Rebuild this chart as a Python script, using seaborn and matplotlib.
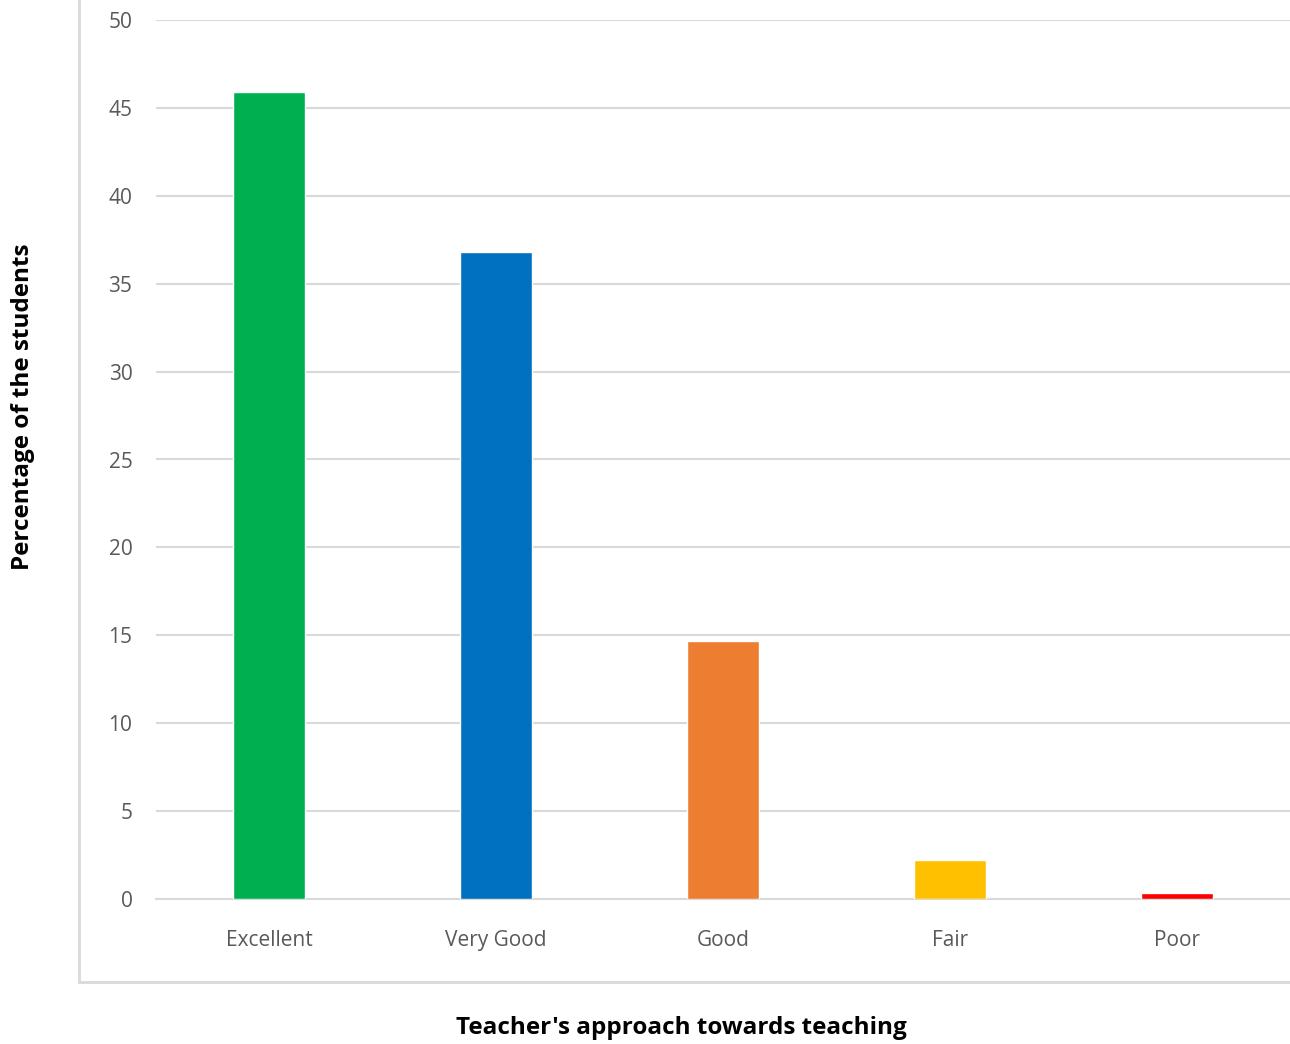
import matplotlib
matplotlib.use("Agg")
import matplotlib.pyplot as plt
import seaborn as sns
import pandas as pd
from matplotlib.lines import Line2D

categories = ["Excellent", "Very Good", "Good", "Fair", "Poor"]
values = [45.9, 36.8, 14.7, 2.2, 0.35]
colors = ["#00B050", "#0070C0", "#ED7D31", "#FFC000", "#FF0000"]
yticks = [0, 5, 10, 15, 20, 25, 30, 35, 40, 45, 50]
xlabel = "Teacher's approach towards teaching"
ylabel = "Percentage of the students"

sns.set_theme(style="white")
plt.rcParams['font.family'] = ['Open Sans', 'DejaVu Sans']

df = pd.DataFrame({"cat": categories, "val": values})

W, H = 1290, 1044
fig = plt.figure(figsize=(W / 100, H / 100), dpi=100)
ax = fig.add_axes([156 / W, 1 - 899 / H, (1290 - 156) / W, (899 - 20) / H])

sns.barplot(data=df, x="cat", y="val", hue="cat", palette=colors, legend=False,
            width=0.317, saturation=1, ax=ax, zorder=3)

ax.set_ylim(0, 50)
ax.set_yticks(yticks)
ax.set_xlim(-0.5, len(categories) - 0.5)
ax.yaxis.grid(True, color="#D9D9D9", linewidth=1.5, zorder=0)
ax.set_axisbelow(True)
for s in ["top", "right", "left"]:
    ax.spines[s].set_visible(False)
ax.spines["bottom"].set_color("#D9D9D9")
ax.spines["bottom"].set_linewidth(1.5)
ax.tick_params(axis="both", length=0, labelsize=15, labelcolor="#595959")
ax.tick_params(axis="x", pad=22)
ax.tick_params(axis="y", pad=17)
ax.set_xlabel("")
ax.set_ylabel("")

fig.text(681 / W, 1 - 1028 / H, xlabel, ha="center", va="center",
         fontsize=17.5, fontweight="bold", color="black")
fig.text(23 / W, 1 - 407 / H, ylabel, ha="center", va="center", rotation=90,
         fontsize=17.5, fontweight="bold", color="black")

# chart-area frame (left and bottom visible)
fig.add_artist(Line2D([79 / W, 79 / W], [1 - 982 / H, 1.0], transform=fig.transFigure,
                      color="#D9D9D9", linewidth=2))
fig.add_artist(Line2D([79 / W, 1.0], [1 - 982 / H, 1 - 982 / H], transform=fig.transFigure,
                      color="#D9D9D9", linewidth=2))

fig.savefig("out.png", dpi=100, facecolor="white")
